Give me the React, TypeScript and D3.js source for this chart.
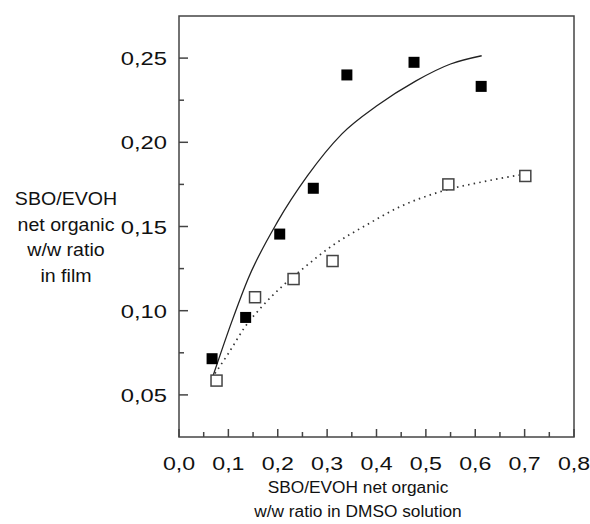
import React from "react";
import * as d3 from "d3";

// Measured points: film ratio vs. DMSO solution ratio
const filledX = [0.067, 0.135, 0.204, 0.272, 0.340, 0.476, 0.612];
const filledY = [0.0715, 0.096, 0.1455, 0.1727, 0.240, 0.2475, 0.2332];
const openX = [0.076, 0.154, 0.232, 0.311, 0.5455, 0.7014];
const openY = [0.0585, 0.108, 0.1188, 0.1295, 0.175, 0.180];

// Fitted trend curves (sampled)
const solidFitX = [0.0695, 0.108, 0.14, 0.2, 0.26, 0.33, 0.4, 0.48, 0.55, 0.613];
const solidFitY = [0.0618, 0.0944, 0.119, 0.153, 0.18, 0.205, 0.2215, 0.2365, 0.2465, 0.2514];
const dottedFitX = [0.0729, 0.1, 0.1337, 0.1675, 0.208, 0.2552, 0.3122, 0.3797, 0.4473, 0.5283, 0.6162, 0.6906];
const dottedFitY = [0.0627, 0.0746, 0.0904, 0.1023, 0.1142, 0.126, 0.139, 0.1509, 0.1617, 0.1706, 0.1766, 0.1806];

const xTicks = [0, 0.1, 0.2, 0.3, 0.4, 0.5, 0.6, 0.7, 0.8];
const xMinorTicks = [0.05, 0.15, 0.25, 0.35, 0.45, 0.55, 0.65, 0.75];
const yTicks = [0.05, 0.1, 0.15, 0.2, 0.25];
const yMinorTicks = [0.075, 0.125, 0.175, 0.225];

const yTitle = ["SBO/EVOH", "net organic", "w/w ratio", "in film"];
const xTitle = ["SBO/EVOH net organic", "w/w ratio in DMSO solution"];

const W = 590;
const H = 524;
const left = 179;
const right = 574;
const top = 16;
const bottom = 437;

const FONT = "'Liberation Sans', Arial, sans-serif";

const fmt = (v: number, d: number) => v.toFixed(d).replace(".", ",");

function Txt({ x, y, children, anchor = "middle", size = 18.5, sx = 1 }: any) {
  return (
    <text
      transform={`translate(${x},${y}) scale(${sx},1)`}
      textAnchor={anchor}
      fontFamily={FONT}
      fontSize={size}
      fill="#111"
    >
      {children}
    </text>
  );
}

export default function App() {
  const x = d3.scaleLinear().domain([0, 0.8]).range([left, right]);
  const y = d3.scaleLinear().domain([0.025, 0.275]).range([bottom, top]);

  const line = d3
    .line<[number, number]>()
    .x((d) => x(d[0]))
    .y((d) => y(d[1]))
    .curve(d3.curveMonotoneX);

  const solidPath = line(solidFitX.map((v, i) => [v, solidFitY[i]]) as [number, number][]) || "";
  const dottedPath = line(dottedFitX.map((v, i) => [v, dottedFitY[i]]) as [number, number][]) || "";

  const sq = 11;
  const osq = 11;

  return (
    <svg width={W} height={H} style={{ position: "absolute", left: 0, top: 0, background: "#fff" }}>
      <rect x={0} y={0} width={W} height={H} fill="#fff" />

      {/* fit curves */}
      <path d={solidPath} fill="none" stroke="#222" strokeWidth={1.3} />
      <path
        d={dottedPath}
        fill="none"
        stroke="#333"
        strokeWidth={1.7}
        strokeDasharray="1.5 4.2"
      />

      {/* open squares */}
      {openX.map((v, i) => (
        <rect
          key={"o" + i}
          x={x(v) - osq / 2}
          y={y(openY[i]) - osq / 2}
          width={osq}
          height={osq}
          fill="#fff"
          stroke="#444"
          strokeWidth={1.5}
        />
      ))}

      {/* filled squares */}
      {filledX.map((v, i) => (
        <rect
          key={"f" + i}
          x={x(v) - sq / 2}
          y={y(filledY[i]) - sq / 2}
          width={sq}
          height={sq}
          fill="#000"
        />
      ))}

      {/* frame */}
      <rect
        x={left}
        y={top}
        width={right - left}
        height={bottom - top}
        fill="none"
        stroke="#444"
        strokeWidth={1.5}
      />

      {/* x ticks */}
      {xTicks.map((t) => (
        <line key={"xt" + t} x1={x(t)} x2={x(t)} y1={bottom} y2={bottom - 8} stroke="#444" strokeWidth={1.5} />
      ))}
      {xMinorTicks.map((t) => (
        <line key={"xm" + t} x1={x(t)} x2={x(t)} y1={bottom} y2={bottom - 5} stroke="#444" strokeWidth={1.5} />
      ))}
      {xTicks.map((t) => (
        <Txt key={"xl" + t} x={x(t)} y={470} size={19} sx={1.22}>
          {fmt(t, 1)}
        </Txt>
      ))}

      {/* y ticks */}
      {yTicks.map((t) => (
        <line key={"yt" + t} x1={left} x2={left + 9} y1={y(t)} y2={y(t)} stroke="#444" strokeWidth={1.5} />
      ))}
      {yMinorTicks.map((t) => (
        <line key={"ym" + t} x1={left} x2={left + 5} y1={y(t)} y2={y(t)} stroke="#444" strokeWidth={1.5} />
      ))}
      {yTicks.map((t) => (
        <Txt key={"yl" + t} x={167} y={y(t) + 7} anchor="end" size={19} sx={1.25}>
          {fmt(t, 2)}
        </Txt>
      ))}

      {/* axis titles */}
      {yTitle.map((s, i) => (
        <Txt key={"yT" + i} x={66} y={205 + i * 25.6} size={17.5} sx={1.12}>
          {s}
        </Txt>
      ))}
      {xTitle.map((s, i) => (
        <Txt key={"xT" + i} x={358} y={493 + i * 24} size={17.3}>
          {s}
        </Txt>
      ))}
    </svg>
  );
}
